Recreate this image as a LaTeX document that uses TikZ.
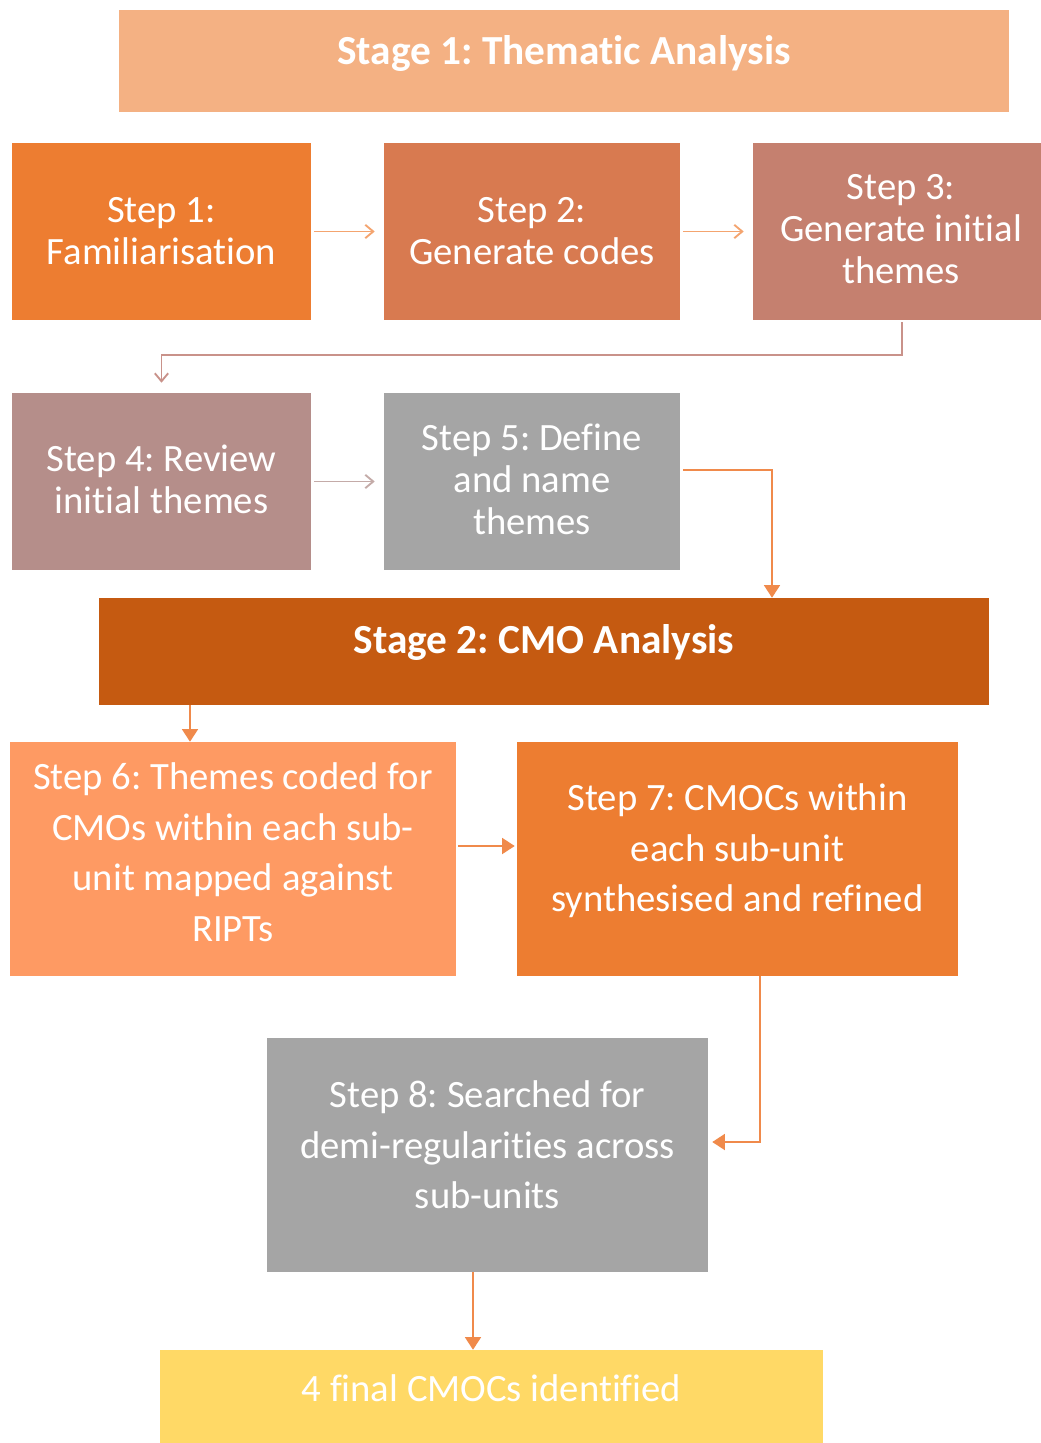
\documentclass[tikz,border=0pt]{standalone}
\usepackage{fontspec}
\setmainfont{Carlito}[Ligatures=NoCommon]
\usetikzlibrary{arrows.meta}
\frenchspacing
\definecolor{cStageA}{HTML}{F4B183}
\definecolor{cStepA}{HTML}{ED7D31}
\definecolor{cStepB}{HTML}{D87A50}
\definecolor{cStepC}{HTML}{C5806F}
\definecolor{cStepD}{HTML}{B58E8A}
\definecolor{cGrey}{HTML}{A5A5A5}
\definecolor{cStageB}{HTML}{C55A11}
\definecolor{cStepF}{HTML}{FE9A63}
\definecolor{cFinal}{HTML}{FFD966}
\definecolor{cArrOr}{HTML}{F08A4B}
\definecolor{cArrLt}{HTML}{F4A46F}
\definecolor{cArrRose}{HTML}{C9928A}
\definecolor{cArrGrey}{HTML}{C4ABA8}
\tikzset{
  sz/.style 2 args={minimum width=#1*0.75pt, minimum height=#2*0.75pt},
  box/.style={draw=none, inner sep=0pt},
  txt/.style={inner sep=0pt, align=center, text=white,
    font=\fontsize{29}{31.5}\selectfont},
  talltxt/.style={txt, font=\fontsize{29}{38}\selectfont},
  stagetxt/.style={txt, font=\fontsize{31}{31.5}\selectfont\bfseries},
  openarr/.style={line width=1.4pt, -{Straight Barb[length=6pt, width=10pt, line width=1.4pt]}},
  fillarr/.style={line width=1.4pt, color=cArrOr, -{Triangle[length=9.5pt, width=12pt]}},
}
\begin{document}
\begin{tikzpicture}[x=0.75pt, y=-0.75pt]
  \useasboundingbox[fill=white] (0,0) rectangle (1041,1443);

  % stage 1 and its five steps
  \node[box, sz={890}{102}, fill=cStageA,
    label={[stagetxt, yshift=6pt]center:{Stage 1: Thematic Analysis}}] (st1) at (564,61) {};
  \node[box, sz={299}{177}, fill=cStepA,
    label={[txt]center:{Step 1:\\Familiarisation}}] (s1) at (161.5,231.5) {};
  \node[box, sz={296}{177}, fill=cStepB,
    label={[txt]center:{Step 2:\\Generate codes}}] (s2) at (532,231.5) {};
  \node[box, sz={288}{177}, fill=cStepC,
    label={[txt, xshift=3pt, yshift=1.5pt]center:{Step 3:\\Generate initial\\themes}}] (s3) at (897,231.5) {};
  \node[box, sz={299}{177}, fill=cStepD,
    label={[txt, yshift=2pt]center:{Step 4: Review\\initial themes}}] (s4) at (161.5,481.5) {};
  \node[box, sz={296}{177}, fill=cGrey,
    label={[txt, yshift=1.5pt]center:{Step 5: Define\\and name\\themes}}] (s5) at (532,481.5) {};

  % stage 2 and its steps
  \node[box, sz={890}{107}, fill=cStageB,
    label={[stagetxt, yshift=7pt]center:{Stage 2: CMO Analysis}}] (st2) at (544,651.5) {};
  \node[box, sz={446}{234}, fill=cStepF,
    label={[talltxt, yshift=5pt]center:{Step 6: Themes coded for\\CMOs within each sub-\\unit mapped against\\RIPTs}}]
    (s6) at (233,859) {};
  \node[box, sz={441}{234}, fill=cStepA,
    label={[talltxt, yshift=6pt]center:{Step 7: CMOCs within\\each sub-unit\\synthesised and refined}}]
    (s7) at (737.5,859) {};
  \node[box, sz={441}{234}, fill=cGrey,
    label={[talltxt, yshift=7.5pt]center:{Step 8: Searched for\\demi-regularities across\\sub-units}}]
    (s8) at (487.5,1155) {};
  \node[box, sz={663}{93}, fill=cFinal,
    label={[txt, yshift=6pt]center:{4 final CMOCs identified}}] (fin) at (491.5,1396.5) {};

  % bend points of the connectors
  \coordinate (k3) at (0,355);
  \coordinate (k5) at (772,470);
  \coordinate (k6) at (190,0);
  \coordinate (k7) at (0,846);
  \coordinate (k8) at (760,1142);
  \coordinate (k9) at (473,0);

  % connectors of stage 1
  \draw[openarr, cArrLt, shorten <=3*0.75pt, shorten >=9*0.75pt] (s1) -- (s2);
  \draw[openarr, cArrLt, shorten <=3*0.75pt, shorten >=9*0.75pt] (s2) -- (s3);
  \draw[openarr, cArrRose, shorten <=2*0.75pt, shorten >=10*0.75pt]
    ([xshift=5*0.75pt]s3.south) |- (s4.north |- k3) -- (s4.north);
  \draw[openarr, cArrGrey, shorten <=3*0.75pt, shorten >=9*0.75pt] (s4) -- (s5);
  \draw[fillarr, shorten <=3*0.75pt] (s5.east |- k5) -- (k5) -- (k5 |- st2.north);

  % connectors of stage 2
  \draw[fillarr] (st2.south -| k6) -- (s6.north -| k6);
  \draw[fillarr, shorten <=2*0.75pt, shorten >=2*0.75pt] (s6.east |- k7) -- (s7.west |- k7);
  \draw[fillarr, shorten >=4*0.75pt] (s7.south -| k8) -- (k8) -- (s8.east |- k8);
  \draw[fillarr] (s8.south -| k9) -- (fin.north -| k9);
\end{tikzpicture}
\end{document}
